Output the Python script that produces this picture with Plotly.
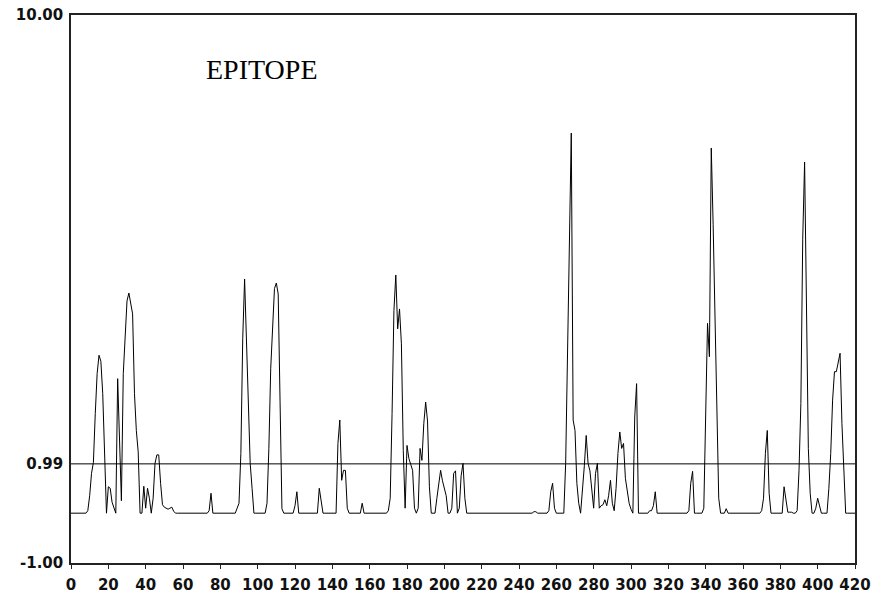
import plotly.graph_objects as go

# Epitope score per residue
score_000_099 = [
    0, 0, 0, 0, 0, 0, 0, 0, 0, 0.05,
    0.35, 0.8, 1.02, 2.0, 2.8, 3.17, 3.05, 2.4, 1.0, 0,
    0.53, 0.5, 0.22, 0.1, 0, 2.7, 1.2, 0.25, 2.8, 3.67,
    4.26, 4.42, 4.2, 4.0, 2.4, 1.66, 1.23, 0, 0, 0.54,
    0.1, 0.5, 0.3, 0, 0.3, 1.0, 1.17, 1.17, 0.6, 0.17,
    0.12, 0.1, 0.08, 0.1, 0.12, 0.04, 0, 0, 0, 0,
    0, 0, 0, 0, 0, 0, 0, 0, 0, 0,
    0, 0, 0, 0, 0.05, 0.4, 0, 0, 0, 0,
    0, 0, 0, 0, 0, 0, 0, 0, 0, 0.1,
    0.2, 1.2, 3.5, 4.7, 3.6, 2.2, 1.0, 0.5, 0, 0,
]
score_100_199 = [
    0, 0, 0, 0, 0, 0.2, 1.3, 2.91, 3.8, 4.51,
    4.62, 4.4, 2.23, 0.09, 0, 0, 0, 0, 0, 0,
    0.15, 0.43, 0, 0, 0, 0, 0, 0, 0, 0,
    0, 0, 0, 0.5, 0.2, 0, 0, 0, 0, 0,
    0, 0, 0, 1.4, 1.87, 0.66, 0.86, 0.86, 0.1, 0,
    0, 0, 0, 0, 0, 0, 0.2, 0, 0, 0,
    0, 0, 0, 0, 0, 0, 0, 0, 0, 0,
    0.05, 0.3, 2.0, 4.07, 4.78, 3.7, 4.1, 3.4, 1.26, 0.1,
    1.36, 1.1, 0.98, 0.86, 0.1, 0, 0.1, 1.3, 1.06, 1.8,
    2.23, 1.85, 0.53, 0, 0, 0, 0.3, 0.6, 0.86, 0.65,
]
score_200_299 = [
    0.5, 0.35, 0, 0, 0.1, 0.8, 0.85, 0, 0.1, 0.75,
    1.0, 0.3, 0, 0, 0, 0, 0, 0, 0, 0,
    0, 0, 0, 0, 0, 0, 0, 0, 0, 0,
    0, 0, 0, 0, 0, 0, 0, 0, 0, 0,
    0, 0, 0, 0, 0, 0, 0, 0, 0.03, 0.03,
    0, 0, 0, 0, 0, 0, 0.05, 0.43, 0.6, 0.1,
    0, 0, 0, 0, 0, 1.0, 3.0, 5.45, 7.63, 1.87,
    1.66, 0.6, 0.2, 0, 0.4, 0.95, 1.56, 1.0, 0.85, 0.5,
    0.1, 0.8, 1.0, 0.1, 0.15, 0.17, 0.27, 0.15, 0.35, 0.66,
    0.2, 0.05, 0.5, 1.2, 1.63, 1.3, 1.4, 0.7, 0.45, 0.2,
]
score_300_420 = [
    0.08, 0, 1.93, 2.6, 0, 0, 0, 0, 0, 0,
    0.05, 0.05, 0.15, 0.43, 0, 0, 0, 0, 0, 0,
    0, 0, 0, 0, 0, 0, 0, 0, 0, 0,
    0, 0.05, 0.6, 0.84, 0, 0, 0, 0, 0, 0.1,
    2.03, 3.81, 3.14, 7.33, 5.8, 3.71, 1.56, 0.3, 0, 0,
    0, 0.09, 0, 0, 0, 0, 0, 0, 0, 0,
    0, 0, 0, 0, 0, 0, 0, 0, 0, 0,
    0.05, 0.3, 1.2, 1.66, 0.4, 0, 0, 0, 0, 0,
    0, 0, 0.53, 0.3, 0.02, 0.02, 0.02, 0, 0, 0.05,
    0.85, 2.2, 5.5, 7.05, 3.8, 1.3, 0.4, 0, 0, 0.1,
    0.3, 0.15, 0, 0, 0, 0, 0.5, 1.2, 2.27, 2.84,
    2.84, 3.0, 3.21, 1.8, 0.9, 0, 0, 0, 0, 0,
    0,
]

threshold = 0.99
x_ticks = [0, 20, 40, 60, 80, 100, 120, 140, 160, 180, 200,
           220, 240, 260, 280, 300, 320, 340, 360, 380, 400, 420]
y_ticks = [-1.0, 0.99, 10.0]
y_tick_text = ["-1.00", "0.99", "10.00"]
title_text = "EPITOPE"

score = score_000_099 + score_100_199 + score_200_299 + score_300_420
residue = list(range(len(score)))

tick_font = dict(family="DejaVu Sans", size=15, color="#111111", weight="bold")

fig = go.Figure()
fig.add_trace(go.Scatter(
    x=residue, y=score, mode="lines",
    line=dict(color="#000000", width=1),
    hoverinfo="skip", showlegend=False,
))

fig.add_shape(type="line", xref="paper", x0=0, x1=1, yref="y",
              y0=threshold, y1=threshold,
              line=dict(color="#000000", width=1))

fig.add_annotation(text=title_text, xref="paper", yref="paper",
                   x=0.243, y=0.901, xanchor="center", yanchor="middle",
                   showarrow=False,
                   font=dict(family="Liberation Serif", size=28, color="#000000"))

# the page body adds an 8px offset, so the figure is sized to fit the window
fig.update_layout(
    width=872, height=591,
    margin=dict(l=63, r=25, t=7, b=36, autoexpand=False),
    paper_bgcolor="white", plot_bgcolor="white",
    showlegend=False,
    xaxis=dict(range=[0, 420], tickmode="array", tickvals=x_ticks,
               ticktext=[str(v) for v in x_ticks], automargin=False,
               ticks="outside", ticklen=4, tickwidth=1, tickcolor="#222222",
               showline=True, linecolor="#222222", linewidth=1.5, mirror=True,
               showgrid=False, zeroline=False, tickfont=tick_font,
               ticklabelstandoff=3, ticklabeloverflow="allow"),
    yaxis=dict(range=[-1, 10], tickmode="array", tickvals=y_ticks,
               ticktext=y_tick_text, ticks="", automargin=False,
               showline=True, linecolor="#222222", linewidth=1.5, mirror=True,
               showgrid=False, zeroline=False, tickfont=tick_font,
               ticklabelstandoff=3, ticklabeloverflow="allow"),
)

fig.write_html("out.html")
